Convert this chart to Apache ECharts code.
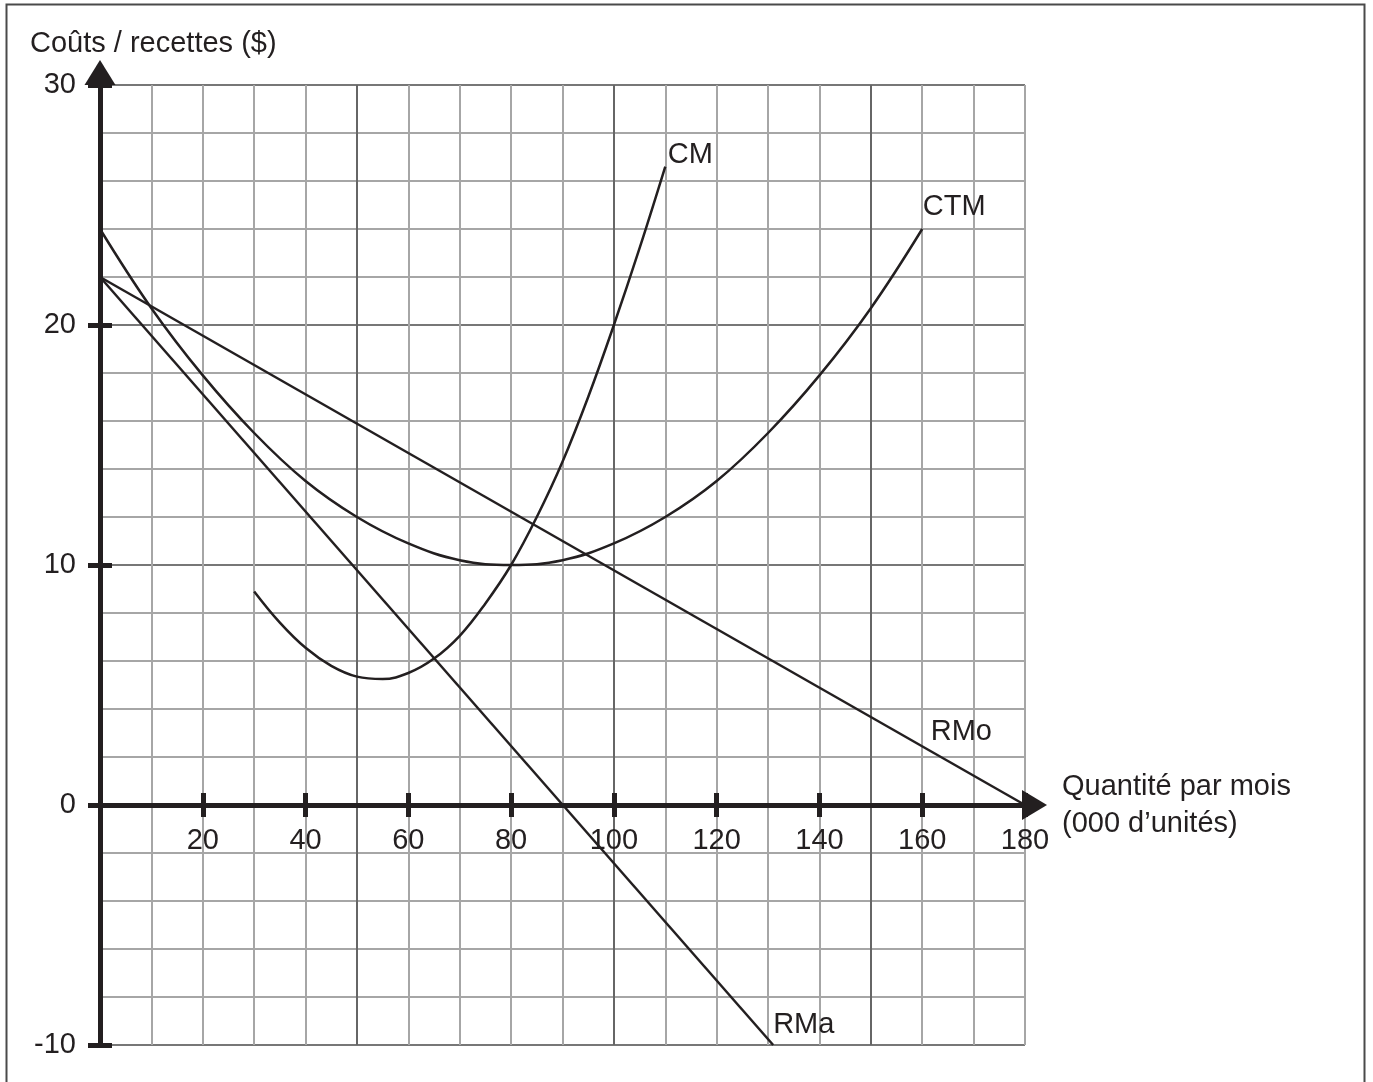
<!DOCTYPE html>
<html>
<head>
<meta charset="utf-8">
<script src="https://cdn.jsdelivr.net/npm/echarts@6/dist/echarts.min.js"></script>
<style>
html,body{margin:0;padding:0;background:#fff;}
#chart{width:1373px;height:1082px;}
</style>
</head>
<body>
<div id="chart"></div>
<script>
// ---- Data ----
const xMin = 0, xMax = 180, yMin = -10, yMax = 30;
const xTickLabels = [20, 40, 60, 80, 100, 120, 140, 160, 180];
const yTickLabels = [-10, 0, 10, 20, 30];

// CM (coût marginal)
const cmX = [30, 35, 40, 45, 50, 55, 60, 65, 70, 75, 80, 85, 90, 95, 100, 105, 110];
const cmY = [8.9, 7.6, 6.55, 5.8, 5.35, 5.25, 5.5, 6.1, 7.05, 8.4, 10.0, 12.0, 14.3, 17.0, 20.0, 23.2, 26.6];

// CTM (coût total moyen)
const ctmX = [0, 10, 20, 30, 40, 50, 60, 70, 80, 90, 100, 110, 120, 130, 140, 150, 160];
const ctmY = [24.0, 20.7, 17.9, 15.5, 13.5, 12.0, 10.9, 10.2, 10.0, 10.2, 10.9, 12.0, 13.5, 15.5, 17.9, 20.7, 24.0];

// RMo (recette moyenne)
const rmoX = [0, 180];
const rmoY = [22, 0];

// RMa (recette marginale)
const rmaX = [0, 131];
const rmaY = [22, -10];

// Curve labels and the curve points they are attached to
const curveNames = ['CM', 'CTM', 'RMo', 'RMa'];
const curveLabelX = [110, 160, 160, 130.9];
const curveLabelY = [26.6, 24.0, 2.44, -10];

// ---- Styling ----
const INK = '#231f20';
const FONT = "'Liberation Sans', Arial, sans-serif";
const FS = 29;
const GRID = {left: 100, top: 85, width: 925, height: 960};
// x axis drawn at y = 0 : shift it up from the grid bottom
const X_AXIS_OFFSET = -GRID.height * (0 - yMin) / (yMax - yMin);
const labelStyles = [
  {distance: 2, offset: [0, -12]},
  {distance: 0, offset: [0, -22]},
  {distance: 8, offset: [0, -14]},
  {distance: 0, offset: [0, -20]}
];

const zip = (xs, ys) => xs.map((x, i) => [x, ys[i]]);

const chart = echarts.init(document.getElementById('chart'));

const common = {min: xMin, max: xMax, type: 'value'};
const commonY = {min: yMin, max: yMax, type: 'value'};

const option = {
  animation: false,
  backgroundColor: '#ffffff',
  title: {
    text: 'Coûts / recettes ($)',
    left: 25, top: 24,
    textStyle: {fontFamily: FONT, fontSize: FS, fontWeight: 'normal', color: INK}
  },
  grid: Object.assign({containLabel: false}, GRID),
  xAxis: [
    Object.assign({}, common, {
      position: 'bottom',
      interval: 10,
      axisLine: {show: false, onZero: false},
      axisTick: {show: false}, axisLabel: {show: false},
      splitLine: {show: true, lineStyle: {width: 2, color: ['#666666', '#a6a6a6', '#a6a6a6', '#a6a6a6', '#a6a6a6']}}
    }),
    Object.assign({}, common, {
      position: 'bottom', offset: X_AXIS_OFFSET,
      interval: 20,
      name: 'Quantité par mois\n(000 d’unités)',
      nameLocation: 'end', nameGap: 37,
      nameTextStyle: {fontFamily: FONT, fontSize: FS, color: INK, lineHeight: 37, align: 'left', verticalAlign: 'middle'},
      axisLine: {show: true, onZero: false,
        symbol: ['none', 'triangle'], symbolSize: [30, 25], symbolOffset: [0, 9.5],
        lineStyle: {color: INK, width: 5}},
      axisTick: {show: true, inside: false, length: 12, lineStyle: {color: INK, width: 5}},
      axisLabel: {show: true, margin: 21, fontFamily: FONT, fontSize: FS, color: INK,
        formatter: v => (xTickLabels.indexOf(v) >= 0 ? String(v) : '')},
      splitLine: {show: false}
    }),
    Object.assign({}, common, {
      position: 'bottom', offset: X_AXIS_OFFSET,
      interval: 20,
      axisLine: {show: true, onZero: false, lineStyle: {color: INK, width: 5}},
      axisTick: {show: true, inside: true, length: 12, lineStyle: {color: INK, width: 5}},
      axisLabel: {show: false},
      splitLine: {show: false}
    })
  ],
  yAxis: [
    Object.assign({}, commonY, {
      position: 'left',
      interval: 2,
      axisLine: {show: false, onZero: false},
      axisTick: {show: false}, axisLabel: {show: false},
      splitLine: {show: true, lineStyle: {width: 2, color: ['#777777', '#a6a6a6', '#a6a6a6', '#a6a6a6', '#a6a6a6']}}
    }),
    Object.assign({}, commonY, {
      position: 'left',
      interval: 10,
      axisLine: {show: true, onZero: false,
        symbol: ['none', 'triangle'], symbolSize: [31, 25], symbolOffset: [0, 12.5],
        lineStyle: {color: INK, width: 5}},
      axisTick: {show: true, inside: false, length: 12, lineStyle: {color: INK, width: 5}},
      axisLabel: {show: true, margin: 24, fontFamily: FONT, fontSize: FS, color: INK,
        formatter: v => (yTickLabels.indexOf(v) >= 0 ? String(v) : '')},
      splitLine: {show: false}
    }),
    Object.assign({}, commonY, {
      position: 'left',
      interval: 10,
      axisLine: {show: true, onZero: false, lineStyle: {color: INK, width: 5}},
      axisTick: {show: true, inside: true, length: 12, lineStyle: {color: INK, width: 5}},
      axisLabel: {show: false},
      splitLine: {show: false}
    })
  ],
  graphic: [{
    type: 'rect', silent: true, z: -10,
    shape: {x: 6.5, y: 4.5, width: 1358, height: 1100},
    style: {fill: 'none', stroke: '#4a4a4a', lineWidth: 2}
  }],
  series: [
    {name: 'CM', type: 'line', data: zip(cmX, cmY), smooth: 0.4, showSymbol: false,
     lineStyle: {color: INK, width: 2.5}, z: 5},
    {name: 'CTM', type: 'line', data: zip(ctmX, ctmY), smooth: 0.4, showSymbol: false,
     lineStyle: {color: INK, width: 2.5}, z: 5},
    {name: 'RMo', type: 'line', data: zip(rmoX, rmoY), showSymbol: false,
     lineStyle: {color: INK, width: 2.5}, z: 5},
    {name: 'RMa', type: 'line', data: zip(rmaX, rmaY), showSymbol: false,
     lineStyle: {color: INK, width: 2.5}, z: 5},
    {name: 'labels', type: 'scatter', symbolSize: 1, z: 6,
     itemStyle: {color: 'rgba(0,0,0,0)', opacity: 1},
     emphasis: {disabled: true},
     data: curveNames.map((n, i) => ({
       value: [curveLabelX[i], curveLabelY[i]], name: n,
       label: Object.assign({show: true, position: 'right', formatter: n,
         fontFamily: FONT, fontSize: FS, color: INK, opacity: 1}, labelStyles[i])
     }))}
  ]
};
chart.setOption(option);
</script>
</body>
</html>
